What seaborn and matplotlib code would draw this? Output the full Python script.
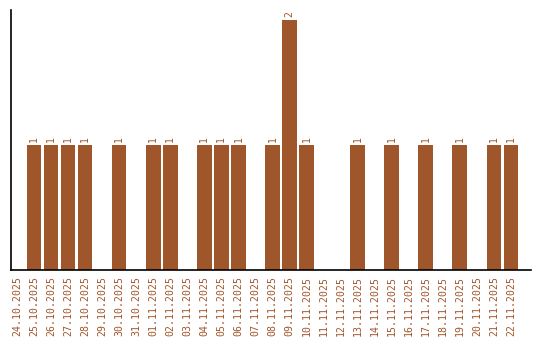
import matplotlib
matplotlib.use("Agg")
import matplotlib.pyplot as plt
import seaborn as sns
import pandas as pd

dates = ["24.10.2025", "25.10.2025", "26.10.2025", "27.10.2025", "28.10.2025",
         "29.10.2025", "30.10.2025", "31.10.2025", "01.11.2025", "02.11.2025",
         "03.11.2025", "04.11.2025", "05.11.2025", "06.11.2025", "07.11.2025",
         "08.11.2025", "09.11.2025", "10.11.2025", "11.11.2025", "12.11.2025",
         "13.11.2025", "14.11.2025", "15.11.2025", "16.11.2025", "17.11.2025",
         "18.11.2025", "19.11.2025", "20.11.2025", "21.11.2025", "22.11.2025"]
counts = [0, 1, 1, 1, 1, 0, 1, 0, 1, 1,
          0, 1, 1, 1, 0, 1, 2, 1, 0, 0,
          1, 0, 1, 0, 1, 0, 1, 0, 1, 1]

color = "#A0562B"

sns.set_style("white")
plt.rcParams['font.family'] = ['DejaVu Sans Mono', 'DejaVu Sans']

df = pd.DataFrame({"date": dates, "count": counts})

fig = plt.figure(figsize=(5.4, 3.4), dpi=100)
ax = fig.add_axes([11/540, 70/340, 520/540, 260/340])
sns.barplot(data=df, x="date", y="count", order=dates, color=color,
            saturation=1, width=0.86, linewidth=0, ax=ax)

labels = [str(c) if c > 0 else "" for c in counts]
ax.bar_label(ax.containers[0], labels=labels, rotation=90, color=color,
             fontsize=7, padding=2)

ax.set_xlim(-0.35, 29.5 + 0.68)
ax.set_ylim(0, 2.08)
ax.set_xlabel("")
ax.set_ylabel("")
ax.set_yticks([])
ax.tick_params(axis="x", length=0, pad=4, labelsize=7.1, labelcolor=color)
for lbl in ax.get_xticklabels():
    lbl.set_rotation(90)
for s in ["top", "right"]:
    ax.spines[s].set_visible(False)
for s in ["left", "bottom"]:
    ax.spines[s].set_color("black")
    ax.spines[s].set_linewidth(1.2)

fig.savefig("out.png", dpi=100)
